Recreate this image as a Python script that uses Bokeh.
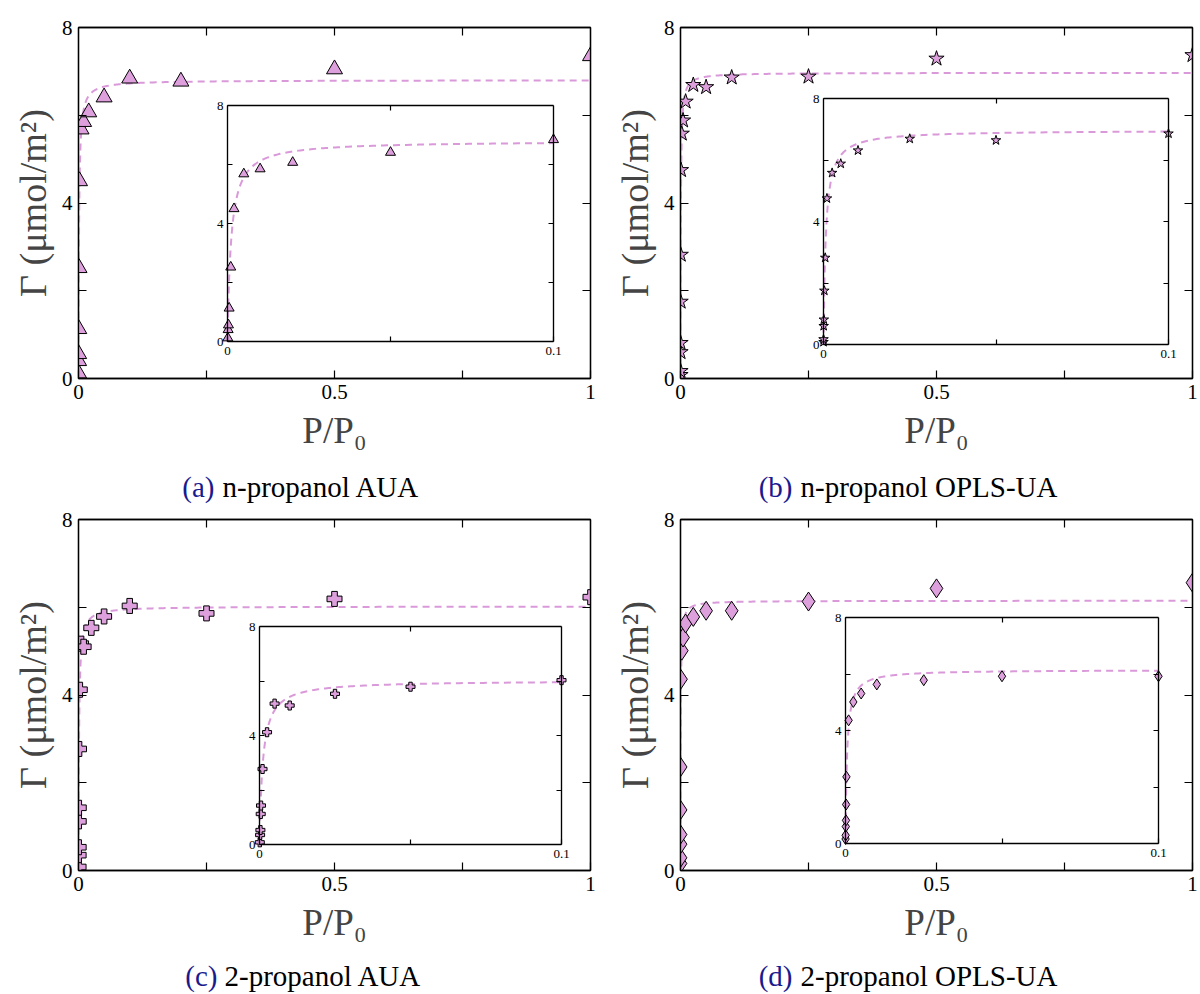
import numpy as np
from bokeh.plotting import figure
from bokeh.models import Range1d, LinearAxis, FixedTicker, BoxAnnotation, Label
from bokeh.layouts import column, row
from bokeh.embed import file_html
from bokeh.resources import INLINE

# ---------------- data ----------------
# (a) n-propanol AUA
x_a = [1e-4, 2e-4, 3e-4, 5e-4, 0.001, 0.002, 0.005, 0.01, 0.02, 0.05, 0.1, 0.2, 0.5, 1.0]
y_a = [0.12, 0.40, 0.56, 1.13, 2.52, 4.50, 5.68, 5.85, 6.07, 6.41, 6.84, 6.77, 7.05, 7.35]
# (b) n-propanol OPLS-UA
x_b = [5e-6, 1e-5, 5e-5, 1e-4, 2.5e-4, 5e-4, 0.001, 0.0025, 0.005, 0.01, 0.025, 0.05, 0.1, 0.25, 0.5, 1.0]
y_b = [0.08, 0.17, 0.60, 0.81, 1.75, 2.82, 4.75, 5.58, 5.88, 6.31, 6.69, 6.64, 6.86, 6.88, 7.29, 7.37]
# (c) 2-propanol AUA
x_c = [1e-4, 2e-4, 3e-4, 4e-4, 5e-4, 0.001, 0.0025, 0.005, 0.01, 0.025, 0.05, 0.1, 0.25, 0.5, 1.0]
y_c = [0.08, 0.35, 0.53, 1.12, 1.43, 2.77, 4.12, 5.17, 5.10, 5.53, 5.79, 6.03, 5.86, 6.19, 6.23]
# (d) 2-propanol OPLS-UA
x_d = [2e-5, 5e-5, 1e-4, 1.5e-4, 2e-4, 3e-4, 0.001, 0.0025, 0.005, 0.01, 0.025, 0.05, 0.1, 0.25, 0.5, 1.0]
y_d = [0.16, 0.29, 0.60, 0.82, 1.38, 2.36, 4.36, 5.01, 5.31, 5.63, 5.78, 5.92, 5.92, 6.13, 6.43, 6.56]

# Langmuir fit parameters (q_max, K) of the dashed fit curves
fit_a = (6.80, 900.0)
fit_b = (6.97, 1500.0)
fit_c = (6.02, 900.0)
fit_d = (6.15, 2000.0)

captions_tag = ["(a)", "(b)", "(c)", "(d)"]
captions_text = ["n-propanol AUA", "n-propanol OPLS-UA", "2-propanol AUA", "2-propanol OPLS-UA"]

main_x_ticks = [0, 0.5, 1]
main_x_minor = [0.25, 0.75]
main_y_ticks = [0, 4, 8]
main_y_minor = [2, 6]
inset_x_ticks = [0, 0.1]
inset_x_minor = [0.05]
inset_y_ticks = [0, 4, 8]
inset_y_minor = [2, 6]

# ---------------- style ----------------
FONT = "Liberation Serif"
FILL = "#DDA0DD"
CURVE = "#DA9ADA"
CAP_BLUE = "#1a1a8f"
FW, FH = 512, 351


def style_axis(ax, tick_len, label_size):
    ax.axis_line_color = "black"
    ax.axis_line_width = 1.3
    ax.major_tick_in = tick_len
    ax.major_tick_out = 0
    ax.minor_tick_in = tick_len
    ax.minor_tick_out = 0
    ax.major_tick_line_color = "black"
    ax.minor_tick_line_color = "black"
    ax.major_tick_line_width = 1.2
    ax.minor_tick_line_width = 1.2
    ax.major_label_text_font = FONT
    ax.major_label_text_font_size = label_size
    ax.major_label_text_color = "black"


def langmuir(xs, fit):
    qm, k = fit
    xs = np.asarray(xs)
    return qm * k * xs / (1.0 + k * xs)


def panel(x, y, fit, marker, ms_main, ms_inset, geom):
    bl, br, bt, bb, ix0, ix1, it, ib = geom
    p = figure(frame_width=FW, frame_height=FH,
               min_border_left=bl, min_border_right=br,
               min_border_top=bt, min_border_bottom=bb,
               x_range=Range1d(0, 1), y_range=Range1d(0, 8),
               x_axis_location=None, y_axis_location=None,
               toolbar_location=None, tools="", output_backend="svg",
               background_fill_color="white", border_fill_color="white",
               outline_line_color="black", outline_line_width=1.3)
    p.grid.visible = False

    # main axes
    xb = LinearAxis(ticker=FixedTicker(ticks=main_x_ticks, minor_ticks=main_x_minor),
                    axis_label="P/P\u2080")
    style_axis(xb, 8, "21px")
    xb.major_label_standoff = 6
    xb.axis_label_text_font = FONT
    xb.axis_label_text_font_size = "37px"
    xb.axis_label_text_font_style = "normal"
    xb.axis_label_standoff = 8
    p.add_layout(xb, "below")

    yl = LinearAxis(ticker=FixedTicker(ticks=main_y_ticks, minor_ticks=main_y_minor),
                    axis_label="\u0393 (\u03bcmol/m\u00b2)")
    style_axis(yl, 8, "21px")
    yl.major_label_standoff = 6
    yl.axis_label_text_font = FONT
    yl.axis_label_text_font_size = "38px"
    yl.axis_label_text_font_style = "normal"
    yl.axis_label_standoff = 5
    p.add_layout(yl, "left")

    xt = LinearAxis(ticker=FixedTicker(ticks=[], minor_ticks=[0.25, 0.5, 0.75]))
    style_axis(xt, 8, "1px")
    xt.major_label_standoff = 0
    p.add_layout(xt, "above")

    yr = LinearAxis(ticker=FixedTicker(ticks=[], minor_ticks=[2, 4, 6]))
    style_axis(yr, 8, "1px")
    yr.major_label_standoff = 0
    p.add_layout(yr, "right")

    # main data
    xs = np.concatenate([[0.0], np.geomspace(1e-6, 1.0, 700)])
    p.line(xs, langmuir(xs, fit), line_color=CURVE, line_dash="7 5", line_width=2)
    p.scatter(x, y, marker=marker, size=ms_main, fill_color=FILL,
              line_color="black", line_width=1)

    # inset ranges mapped to the inset box inside the frame
    sx = 0.1 / (ix1 - ix0)
    sy = 8.0 / (ib - it)
    p.extra_x_ranges["ix"] = Range1d(-ix0 * sx, (FW - ix0) * sx)
    p.extra_y_ranges["iy"] = Range1d((ib - FH) * sy, ib * sy)

    box = BoxAnnotation(left=0, right=0.1, bottom=0, top=8,
                        x_range_name="ix", y_range_name="iy",
                        fill_color="white", fill_alpha=1.0,
                        line_color="black", line_width=1.2, level="underlay")
    p.add_layout(box)

    ib_ax = LinearAxis(x_range_name="ix", y_range_name="iy", fixed_location=0, bounds=(0, 0.1),
                       ticker=FixedTicker(ticks=inset_x_ticks, minor_ticks=inset_x_minor))
    style_axis(ib_ax, 5, "13px")
    ib_ax.major_label_standoff = 5
    p.add_layout(ib_ax, "below")

    il_ax = LinearAxis(x_range_name="ix", y_range_name="iy", fixed_location=0, bounds=(0, 8),
                       ticker=FixedTicker(ticks=inset_y_ticks, minor_ticks=inset_y_minor))
    style_axis(il_ax, 5, "13px")
    il_ax.major_label_standoff = 4
    p.add_layout(il_ax, "left")

    it_ax = LinearAxis(x_range_name="ix", y_range_name="iy", fixed_location=8, bounds=(0, 0.1),
                       ticker=FixedTicker(ticks=[], minor_ticks=inset_x_minor))
    style_axis(it_ax, 5, "1px")
    p.add_layout(it_ax, "above")

    ir_ax = LinearAxis(x_range_name="ix", y_range_name="iy", fixed_location=0.1, bounds=(0, 8),
                       ticker=FixedTicker(ticks=[], minor_ticks=[2, 4, 6]))
    style_axis(ir_ax, 5, "1px")
    p.add_layout(ir_ax, "right")

    xi = [v for v in x if v <= 0.1]
    yi = [w for v, w in zip(x, y) if v <= 0.1]
    xsi = np.concatenate([[0.0], np.geomspace(1e-6, 0.1, 500)])
    p.line(xsi, langmuir(xsi, fit), line_color=CURVE, line_dash="7 5", line_width=2,
           x_range_name="ix", y_range_name="iy")
    p.scatter(xi, yi, marker=marker, size=ms_inset, fill_color=FILL,
              line_color="black", line_width=1, x_range_name="ix", y_range_name="iy")
    return p


def caption(width, height, split, gap, mid_y, tag, text):
    c = figure(width=width, height=height, min_border=0,
               x_range=Range1d(0, 1), y_range=Range1d(0, 1),
               x_axis_location=None, y_axis_location=None,
               toolbar_location=None, tools="", output_backend="svg",
               outline_line_color=None, background_fill_color="white",
               border_fill_color="white")
    c.grid.visible = False
    c.add_layout(Label(x=split, y=mid_y, x_units="screen", y_units="screen",
                       text=tag, text_align="right", text_baseline="middle",
                       text_font=FONT, text_font_size="29px", text_color=CAP_BLUE))
    c.add_layout(Label(x=split + gap, y=mid_y, x_units="screen", y_units="screen",
                       text=text, text_align="left", text_baseline="middle",
                       text_font=FONT, text_font_size="29px", text_color="black"))
    return c


# geometry: borders (l, r, t, b) and inset box relative to frame (x0, x1, top, bottom)
geom_a = (78, 10, 27, 82, 149, 475, 78, 314)
geom_b = (80, 8, 27, 82, 143, 488, 71, 317)
geom_c = (78, 10, 11, 82, 181, 483, 107, 325)
geom_d = (80, 8, 11, 82, 165, 478, 98, 324)

pa = panel(x_a, y_a, fit_a, "triangle", 16, 10, geom_a)
pb = panel(x_b, y_b, fit_b, "star", 16, 10, geom_b)
pc = panel(x_c, y_c, fit_c, "plus", 15, 9, geom_c)
pd = panel(x_d, y_d, fit_d, "diamond", 19, 11, geom_d)

ca = caption(600, 48, 214, 8, 22, captions_tag[0], captions_text[0])
cb = caption(600, 48, 192, 8, 22, captions_tag[1], captions_text[1])
cc = caption(600, 42, 217, 7, 19, captions_tag[2], captions_text[2])
cd = caption(600, 42, 192, 8, 19, captions_tag[3], captions_text[3])

layout = column(row(pa, pb), row(ca, cb), row(pc, pd), row(cc, cd))
open("out.html", "w").write(file_html(layout, INLINE))
